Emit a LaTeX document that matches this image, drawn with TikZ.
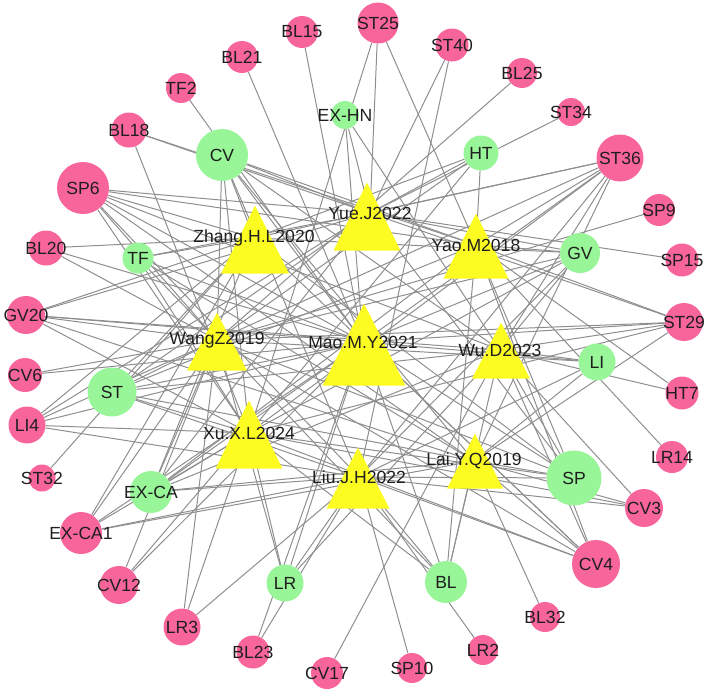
\documentclass[tikz,border=0pt]{standalone}
\usepackage{fontspec}
\setmainfont{Liberation Sans}
\usepackage{tikz}
\usetikzlibrary{shapes.geometric}
\definecolor{acuc}{HTML}{F8659A}
\definecolor{merc}{HTML}{98F598}
\definecolor{studyc}{HTML}{FCFC22}
\definecolor{edgec}{HTML}{8E8E8E}
\definecolor{txtc}{HTML}{1E1E1E}
\pgfdeclarelayer{bg}
\pgfsetlayers{bg,main}
\tikzset{
  acu/.style={circle,fill=acuc,inner sep=0pt,minimum size=#1*0.3mm},
  mer/.style={circle,fill=merc,inner sep=0pt,minimum size=#1*0.3mm},
  study/.style n args={2}{isosceles triangle,isosceles triangle stretches,shape border rotate=90,
    fill=studyc,inner sep=0pt,anchor=apex,minimum width=#1*0.3mm,minimum height=#2*0.3mm},
  stlbl/.style={font=\fontsize{15}{15}\selectfont,text=txtc,inner sep=0pt},
  every label/.style={font=\fontsize{15}{15}\selectfont,text=txtc,inner sep=0pt},
  edge/.style={edgec,line width=0.85pt}
}

\begin{document}
\begin{tikzpicture}[x=0.3mm,y=-0.3mm]
\useasboundingbox (0,0) rectangle (709,693);
% studies (triangles), label sits on the centre
\node[study={67}{68}] (yueT) at (367,182) {};
\node[study={68}{68}] (zhangT) at (255,205) {};
\node[study={65}{65}] (yaoT) at (476,213) {};
\node[study={60}{58}] (wangT) at (217,312) {};
\node[study={83}{82}] (maoT) at (364,303) {};
\node[study={58}{56}] (wuT) at (501,322) {};
\node[study={67}{68}] (xuT) at (249,400) {};
\node[study={63}{61}] (liuT) at (358,447) {};
\node[study={56}{55}] (laiT) at (475,433) {};
% meridians
\node[mer=52,label=center:CV] (cv) at (222,155) {};
\node[mer=28,label=center:EX-HN] (exhn) at (345,115) {};
\node[mer=31,label=center:TF] (tf) at (138,258) {};
\node[mer=35,label=center:HT] (ht) at (481,153) {};
\node[mer=40,label=center:GV] (gv) at (580,253) {};
\node[mer=37,label=center:LI] (li) at (597,362) {};
\node[mer=55,label=center:SP] (sp) at (574,478) {};
\node[mer=42,label=center:BL] (bl) at (446,582) {};
\node[mer=37,label=center:LR] (lr) at (285,583) {};
\node[mer=42,label=center:EX-CA] (exca) at (151,492) {};
\node[mer=49,label=center:ST] (st) at (112,392) {};
% acupoints
\node[acu=41,label=center:ST25] (st25) at (378,23) {};
\node[acu=32,label=center:BL15] (bl15) at (302,32) {};
\node[acu=32,label=center:BL21] (bl21) at (242,57) {};
\node[acu=30,label=center:TF2] (tf2) at (181,88) {};
\node[acu=35,label=center:BL18] (bl18) at (129,130) {};
\node[acu=52,label=center:SP6] (sp6) at (83,188) {};
\node[acu=35,label=center:BL20] (bl20) at (46,248) {};
\node[acu=38,label=center:GV20] (gv20) at (26,315) {};
\node[acu=34,label=center:CV6] (cv6) at (25,375) {};
\node[acu=37,label=center:LI4] (li4) at (27,425) {};
\node[acu=27,label=center:ST32] (st32) at (42,478) {};
\node[acu=42,label=center:EX-CA1] (exca1) at (81,533) {};
\node[acu=38,label=center:CV12] (cv12) at (119,585) {};
\node[acu=37,label=center:LR3] (lr3) at (182,627) {};
\node[acu=33,label=center:BL23] (bl23) at (253,652) {};
\node[acu=32,label=center:CV17] (cv17) at (327,673) {};
\node[acu=30,label=center:SP10] (sp10) at (412,668) {};
\node[acu=30,label=center:LR2] (lr2) at (483,650) {};
\node[acu=30,label=center:BL32] (bl32) at (545,617) {};
\node[acu=48,label=center:CV4] (cv4) at (596,564) {};
\node[acu=38,label=center:CV3] (cv3) at (644,508) {};
\node[acu=32,label=center:LR14] (lr14) at (672,457) {};
\node[acu=33,label=center:HT7] (ht7) at (682,393) {};
\node[acu=38,label=center:ST29] (st29) at (684,322) {};
\node[acu=33,label=center:SP15] (sp15) at (682,260) {};
\node[acu=32,label=center:SP9] (sp9) at (659,210) {};
\node[acu=47,label=center:ST36] (st36) at (620,158) {};
\node[acu=28,label=center:ST34] (st34) at (571,112) {};
\node[acu=30,label=center:BL25] (bl25) at (522,73) {};
\node[acu=33,label=center:ST40] (st40) at (452,45) {};
% study labels
\node[stlbl] (yue) at (370,213) {Yue.J2022};
\node[stlbl] (zhang) at (254,238) {Zhang.H.L2020};
\node[stlbl] (yao) at (476,245) {Yao.M2018};
\node[stlbl] (wang) at (217,340) {WangZ2019};
\node[stlbl] (mao) at (363,342) {Mao.M.Y2021};
\node[stlbl] (wu) at (500,350) {Wu.D2023};
\node[stlbl] (xu) at (249,433) {Xu.X.L2024};
\node[stlbl] (liu) at (359,477) {Liu.J.H2022};
\node[stlbl] (lai) at (474,461) {Lai.Y.Q2019};
% links
\begin{pgfonlayer}{bg}
\foreach \t in {sp6,bl18,cv,exhn,tf,st25,st40,st34,st36,sp15,gv,li4,st,sp,ht,st29,exca,gv20}
  \draw[edge] (yue.center) -- (\t);
\foreach \t in {sp6,cv,bl20,gv20,ht,st36,st,st32,tf,li4,exca,exca1,gv,sp,cv4}
  \draw[edge] (zhang.center) -- (\t);
\foreach \t in {sp6,bl18,cv,st25,st36,gv,st29,cv4,lr14,ht7,sp,ht,exca,bl,st}
  \draw[edge] (yao.center) -- (\t);
\foreach \t in {sp6,cv,tf,bl20,gv20,bl25,ht,st36,sp9,st29,cv6,li4,st,exca1,exca,cv12,lr3,li,sp,gv,bl,lr,cv4}
  \draw[edge] (wang.center) -- (\t);
\foreach \t in {sp6,bl15,bl21,tf2,cv,exhn,tf,bl20,gv20,st36,gv,st29,cv6,li4,st,exca1,exca,cv12,lr,bl23,bl,cv4,li,sp}
  \draw[edge] (mao.center) -- (\t);
\foreach \t in {sp6,cv,gv20,gv,st29,st,exca,cv17,bl,cv4,cv3,ht7,li,sp,st36,exhn,lr}
  \draw[edge] (wu.center) -- (\t);
\foreach \t in {sp6,bl18,cv,tf,st25,ht,st36,st,exca1,exca,cv12,lr3,lr,bl,cv4,cv3,sp,gv,gv20,li4,st29}
  \draw[edge] (xu.center) -- (\t);
\foreach \t in {cv,st40,gv,st,exca1,exca,lr3,lr,bl23,sp10,lr2,bl,cv4,cv3,sp,li,st36,li4,sp6}
  \draw[edge] (liu.center) -- (\t);
\foreach \t in {sp6,cv,st36,st,exca1,exca,bl32,bl,cv4,cv3,sp,li,gv20,st29,tf}
  \draw[edge] (lai.center) -- (\t);
\end{pgfonlayer}
\end{tikzpicture}
\end{document}
